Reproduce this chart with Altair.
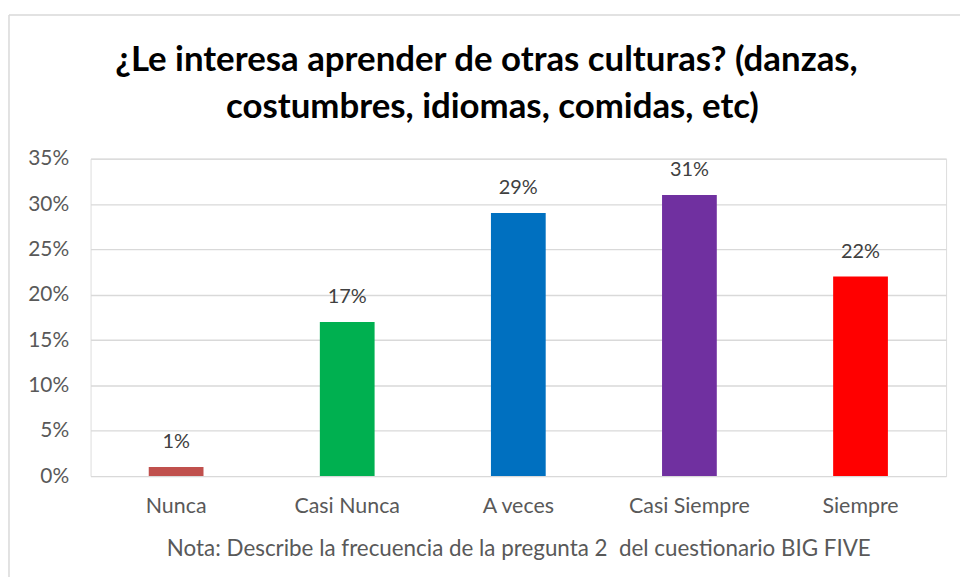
import altair as alt
import pandas as pd

categories = ["Nunca", "Casi Nunca", "A veces", "Casi Siempre", "Siempre"]
values = [0.01, 0.17, 0.29, 0.31, 0.22]
colors = ["#C0504D", "#00B050", "#0070C0", "#7030A0", "#FF0000"]
labels = ["1%", "17%", "29%", "31%", "22%"]
title_lines = ["¿Le interesa aprender de otras culturas? (danzas,",
               "costumbres, idiomas, comidas, etc)"]
note = "Nota: Describe la frecuencia de la pregunta 2\u00a0 del cuestionario BIG FIVE"

df = pd.DataFrame({"cat": categories, "val": values, "label": labels})

FONT = "Lato"
GRAY = "#595959"

x = alt.X("cat:N", sort=categories,
          scale=alt.Scale(paddingInner=0.68, paddingOuter=0.34),
          axis=alt.Axis(title=note,
                        labelAngle=0, labelFontSize=21.5, labelColor=GRAY, labelFont=FONT,
                        labelPadding=20, domain=False, ticks=False,
                        titleFontSize=22.5, titleColor=GRAY, titleFont=FONT,
                        titleFontWeight="normal", titlePadding=20))
y = alt.Y("val:Q", scale=alt.Scale(domain=[0, 0.35], nice=False),
          axis=alt.Axis(format=".0%", values=[0, .05, .1, .15, .2, .25, .3, .35],
                        title=None, labelFontSize=21, labelColor=GRAY, labelFont=FONT,
                        labelPadding=22, domain=False, ticks=False,
                        gridColor="#D9D9D9", gridWidth=1.3))

bars = alt.Chart(df).mark_bar().encode(
    x=x, y=y,
    color=alt.Color("cat:N", sort=categories,
                    scale=alt.Scale(domain=categories, range=colors), legend=None),
)
text = alt.Chart(df).mark_text(dy=-15, fontSize=20, color="#404040", font=FONT,
                               baseline="bottom").encode(
    x=alt.X("cat:N", sort=categories), y="val:Q", text="label:N")

one = pd.DataFrame({"a": [0]})
top_line = alt.Chart(one).mark_rule(color="#D9D9D9", strokeWidth=1.5).encode(
    x=alt.value(-82), x2=alt.value(880), y=alt.value(-144.5))
left_line = alt.Chart(one).mark_rule(color="#D9D9D9", strokeWidth=1.5).encode(
    x=alt.value(-82), y=alt.value(-144.5), y2=alt.value(440))

t1 = alt.Chart(pd.DataFrame({"t": [title_lines[0]]})).mark_text(
    font=FONT, fontSize=35, fontWeight="bold", color="#000000", align="center",
    baseline="alphabetic").encode(x=alt.value(398), y=alt.value(-88), text="t:N")
t2 = alt.Chart(pd.DataFrame({"t": [title_lines[1]]})).mark_text(
    font=FONT, fontSize=35, fontWeight="bold", color="#000000", align="center",
    baseline="alphabetic").encode(x=alt.value(404), y=alt.value(-41), text="t:N")

chart = alt.layer(top_line, left_line, t1, t2, bars, text).properties(
    width=860, height=319,
    padding={"left": 83, "top": 150, "right": 14, "bottom": 100},
    autosize=alt.AutoSizeParams(type="none"),
).configure_view(stroke=None).configure(background="white")

chart.save("out.html", embed_options={"renderer": "svg", "actions": False})
